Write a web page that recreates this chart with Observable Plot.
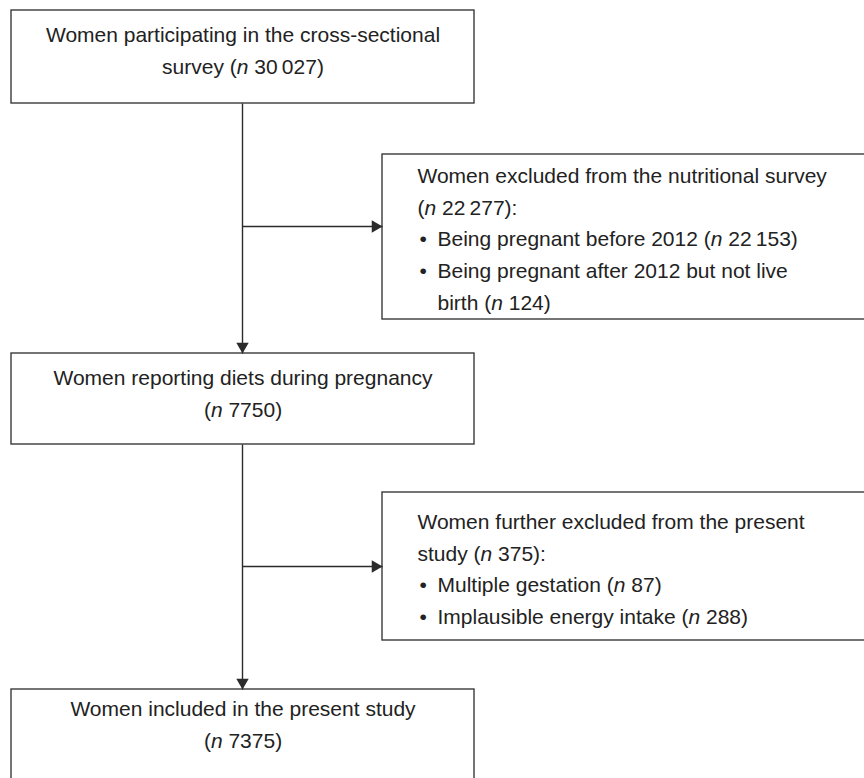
<!DOCTYPE html>
<html>
<head>
<meta charset="utf-8">
<script src="https://cdn.jsdelivr.net/npm/d3@7"></script>
<script src="https://cdn.jsdelivr.net/npm/@observablehq/plot@0.6"></script>
<style>
  html, body { margin: 0; padding: 0; background: #fff; }
  #chart svg { display: block; }
</style>
</head>
<body>
<div id="chart"></div>
<script>
// ---- Data ----
const stageLabels = [
  "Women participating in the cross-sectional\nsurvey",
  "Women reporting diets during pregnancy",
  "Women included in the present study"
];
const stageSep = [" ", "\n", "\n"];
const stageN = [30027, 7750, 7375];

const exclusionLabels = [
  "Women excluded from the nutritional survey",
  "Women further excluded from the present\nstudy"
];
const exclusionSep = ["\n", " "];
const exclusionN = [22277, 375];

const reasonLabels = [
  ["Being pregnant before 2012", "Being pregnant after 2012 but not live\nbirth"],
  ["Multiple gestation", "Implausible energy intake"]
];
const reasonN = [[22153, 124], [87, 288]];

// ---- Layout (positions kept separate from data) ----
const W = 864, H = 778;
const layout = {
  stages: [
    {x1: 11, x2: 474, y1: 10, y2: 103, ty: 35},
    {x1: 11, x2: 474, y1: 353, y2: 444, ty: 378},
    {x1: 11, x2: 474, y1: 689, y2: 792, ty: 709}
  ],
  exclusions: [
    {x1: 382, x2: 868, y1: 154, y2: 319, ty: 176, ay: 226},
    {x1: 382, x2: 868, y1: 492, y2: 640, ty: 522, ay: 566}
  ],
  spineX: 242, lh: 31.6, textX: 417, bulletX: 419, bulletTextX: 437
};

const fmt = n => n >= 10000 ? d3.format(",")(n).replace(",", "\u2009") : String(n);

// ---- Build tables ----
const boxes = [...layout.stages, ...layout.exclusions];

const centerLines = [];
stageLabels.forEach((lab, i) => {
  const full = `${lab}${stageSep[i]}(n ${fmt(stageN[i])})`;
  full.split("\n").forEach((t, j) => centerLines.push({
    text: t, x: (layout.stages[i].x1 + layout.stages[i].x2) / 2, y: layout.stages[i].ty + j * layout.lh
  }));
});

const leftLines = [];
const bullets = [];
exclusionLabels.forEach((lab, i) => {
  const L = layout.exclusions[i];
  let row = 0;
  const head = `${lab}${exclusionSep[i]}(n ${fmt(exclusionN[i])}):`;
  head.split("\n").forEach(t => { leftLines.push({text: t, x: layout.textX, y: L.ty + row * layout.lh}); row++; });
  reasonLabels[i].forEach((r, k) => {
    const full = `${r} (n ${fmt(reasonN[i][k])})`;
    bullets.push({text: "\u2022", x: layout.bulletX, y: L.ty + row * layout.lh});
    full.split("\n").forEach(t => { leftLines.push({text: t, x: layout.bulletTextX, y: L.ty + row * layout.lh}); row++; });
  });
});

const links = [];
for (let i = 0; i < layout.stages.length - 1; i++) {
  links.push({x1: layout.spineX, y1: layout.stages[i].y2, x2: layout.spineX, y2: layout.stages[i + 1].y1, rot: 180});
}
layout.exclusions.forEach(e => links.push({x1: layout.spineX, y1: e.ay, x2: e.x1, y2: e.ay, rot: 90}));

const headR = 4.6;
const tipOff = 2 * Math.sqrt(Math.PI * headR * headR / (3 * Math.sqrt(3)));
const heads = links.map(l => l.rot === 180
  ? {x: l.x2, y: l.y2 - tipOff, rot: 180}
  : {x: l.x2 - tipOff, y: l.y2, rot: 90});

const ink = "#2b2b2b";
const fontFamily = "'Liberation Sans', Arial, Helvetica, sans-serif";
const fs = 21;

const chart = Plot.plot({
  width: W, height: H,
  margin: 0,
  x: {domain: [0, W], range: [0, W], axis: null},
  y: {domain: [0, H], range: [0, H], axis: null},
  style: {fontFamily, background: "#fff"},
  marks: [
    Plot.rect(boxes, {x1: "x1", x2: "x2", y1: "y1", y2: "y2", fill: "white", stroke: "#3a3a3a", strokeWidth: 1.4}),
    Plot.link(links, {x1: "x1", y1: "y1", x2: "x2", y2: "y2", stroke: ink, strokeWidth: 1.4}),
    Plot.dot(heads, {x: "x", y: "y", rotate: "rot", symbol: "triangle", r: headR, fill: ink, stroke: null}),
    Plot.text(centerLines, {x: "x", y: "y", text: "text", textAnchor: "middle", fontSize: fs, fill: "#222", className: "flow-text"}),
    Plot.text(leftLines, {x: "x", y: "y", text: "text", textAnchor: "start", fontSize: fs, fill: "#222", className: "flow-text"}),
    Plot.text(bullets, {x: "x", y: "y", text: "text", textAnchor: "start", fontSize: fs, fill: "#222"})
  ]
});

// italicise the "n" in "(n ...)"
d3.select(chart).selectAll(".flow-text text").each(function () {
  const el = d3.select(this);
  const t = this.textContent;
  const m = t.match(/^(.*\()n( .*)$/);
  if (!m) return;
  el.text(null);
  el.append("tspan").text(m[1]);
  el.append("tspan").attr("font-style", "italic").text("n");
  el.append("tspan").text(m[2]);
});

document.getElementById("chart").append(chart);
</script>
</body>
</html>
